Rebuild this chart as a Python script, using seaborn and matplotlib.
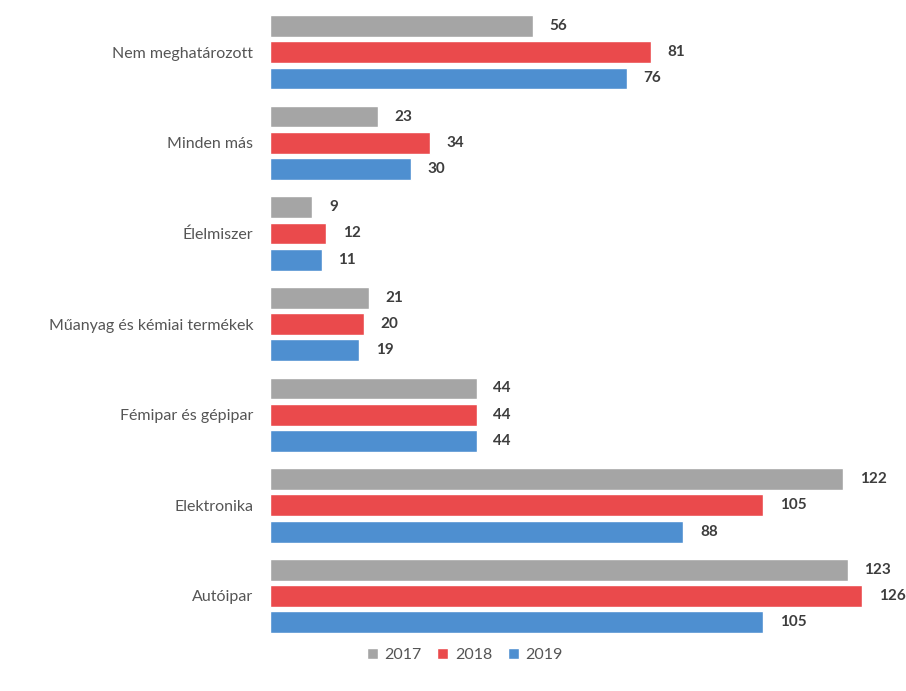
import matplotlib
matplotlib.use("Agg")
import matplotlib.pyplot as plt
import seaborn as sns
import pandas as pd

categories = ["Nem meghatározott", "Minden más", "Élelmiszer",
              "Műanyag és kémiai termékek", "Fémipar és gépipar",
              "Elektronika", "Autóipar"]
years = ["2017", "2018", "2019"]
values_2017 = [56, 23, 9, 21, 44, 122, 123]
values_2018 = [81, 34, 12, 20, 44, 105, 126]
values_2019 = [76, 30, 11, 19, 44, 88, 105]
colors = ["#a5a5a5", "#ea4a4c", "#4e8fd0"]

rows = []
for yr, vals in zip(years, [values_2017, values_2018, values_2019]):
    for c, v in zip(categories, vals):
        rows.append({"category": c, "year": yr, "value": v})
df = pd.DataFrame(rows)

sns.set_theme(style="white")
plt.rcParams["font.family"] = ["Lato", "DejaVu Sans"]

fig = plt.figure(figsize=(9.06, 6.91), dpi=100)
ax = fig.add_axes([0.298, 0.072, 0.70, 0.918])

sns.barplot(data=df, y="category", x="value", hue="year", order=categories,
            hue_order=years, palette=colors, orient="h", width=0.87,
            gap=0.17, saturation=1, ax=ax)

for cont in ax.containers:
    ax.bar_label(cont, padding=12, fontsize=11, fontweight="bold",
                 color="#3d3d3d")

ax.set_xlim(0, 135)
ax.set_xlabel("")
ax.set_ylabel("")
ax.set_xticks([])
ax.tick_params(axis="y", length=0, pad=12, labelsize=11.5, labelcolor="#555555")
sns.despine(ax=ax, left=True, bottom=True)

handles, labels = ax.get_legend_handles_labels()
ax.get_legend().remove()
fig.legend(handles, labels, loc="center", bbox_to_anchor=(0.513, 0.052),
           ncol=3, frameon=False, handlelength=0.7, handleheight=0.7,
           handletextpad=0.4, columnspacing=1.0, fontsize=11.5,
           labelcolor="#555555")

fig.savefig("out.png", dpi=100)
